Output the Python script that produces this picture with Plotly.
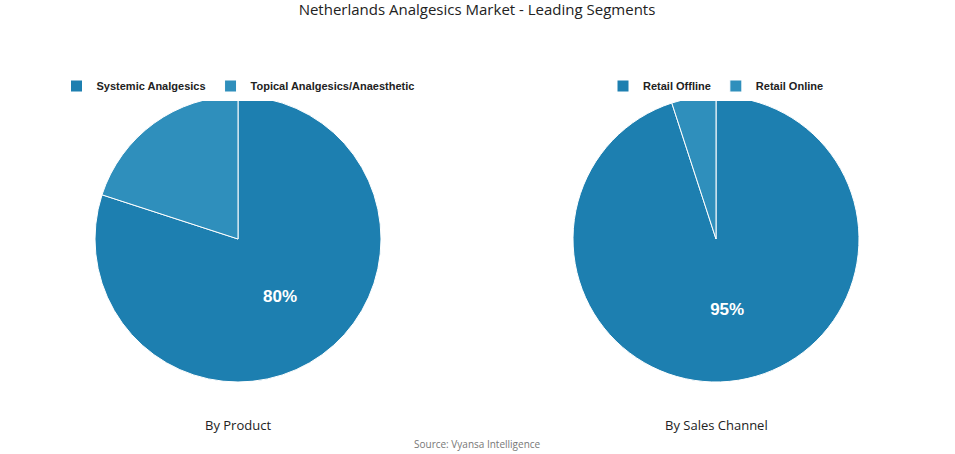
import plotly.graph_objects as go

prod_labels = ["Systemic Analgesics", "Topical Analgesics/Anaesthetic"]
prod_values = [80, 20]
chan_labels = ["Retail Offline", "Retail Online"]
chan_values = [95, 5]
colors = ["#1d7fb0", "#2f8fbc"]

W, H = 955, 454
def fx(px): return px / W
def fy(py): return 1 - py / H

fig = go.Figure()
for labels, values, x0, x1, lg in [(prod_labels, prod_values, 95, 381, "legend"),
                                   (chan_labels, chan_values, 573, 859, "legend2")]:
    fig.add_trace(go.Pie(labels=labels, values=values, sort=False, direction="clockwise", rotation=0,
        marker=dict(colors=colors, line=dict(color="white", width=1)),
        texttemplate=["%{percent:.0%}", ""], textposition="inside",
        textfont=dict(family="Liberation Sans", size=17, color="white", weight="bold"),
        domain=dict(x=[fx(x0), fx(x1)], y=[fy(382), fy(96)]), legend=lg, hoverinfo="label+percent"))

legfont = dict(family="Liberation Sans", size=11, color="#222", weight="bold")
fig.update_layout(
    width=W, height=H, margin=dict(l=0, r=0, t=0, b=0), paper_bgcolor="white",
    title=dict(text="Netherlands Analgesics Market - Leading Segments", x=fx(477), xanchor="center",
               y=fy(10), yanchor="middle", font=dict(family="Open Sans", size=15, color="#222", weight=500)),
    legend=dict(orientation="h", x=fx(238), xanchor="center", y=fy(86), yanchor="middle",
                font=legfont, itemwidth=30),
    legend2=dict(orientation="h", x=fx(716), xanchor="center", y=fy(86), yanchor="middle",
                 font=legfont, itemwidth=30),
    annotations=[
        dict(text="By Product", x=fx(238), y=fy(425), xanchor="center", yanchor="middle",
             xref="paper", yref="paper", showarrow=False,
             font=dict(family="Open Sans", size=13, color="#222")),
        dict(text="By Sales Channel", x=fx(716), y=fy(425), xanchor="center", yanchor="middle",
             xref="paper", yref="paper", showarrow=False,
             font=dict(family="Open Sans", size=13, color="#222")),
        dict(text="Source: Vyansa Intelligence", x=fx(477), y=fy(444), xanchor="center", yanchor="middle",
             xref="paper", yref="paper", showarrow=False,
             font=dict(family="Open Sans", size=10, color="#777")),
    ],
)
fig.write_html("out.html", config={"displayModeBar": False},
               post_script="document.body.style.margin='0';document.body.style.overflow='hidden';")
